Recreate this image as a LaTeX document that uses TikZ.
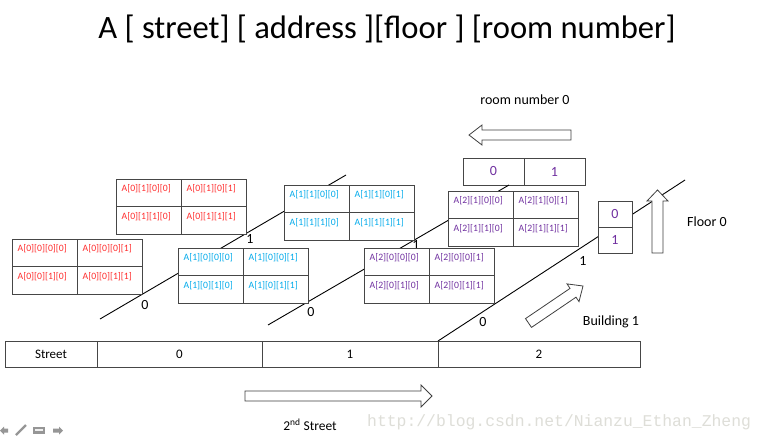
\documentclass[tikz,border=0pt]{standalone}
\usepackage{fontspec}
\setmainfont{Carlito}
\newfontfamily\wmfont{Liberation Mono}
\definecolor{cred}{RGB}{255,45,45}
\definecolor{ccyan}{RGB}{0,170,235}
\definecolor{cpurple}{RGB}{112,48,160}
\definecolor{cborder}{RGB}{70,70,70}
\definecolor{cicon}{RGB}{150,150,150}
\definecolor{cwater}{RGB}{222,222,216}
\tikzset{
  cell/.style={draw=cborder, fill=white, line width=0.9pt, minimum width=65pt, minimum height=27.5pt, inner sep=0pt, outer sep=0pt, anchor=north west},
  celltext/.style={font=\fontsize{9.7}{10}\selectfont, inner sep=0pt, anchor=north west},
  axis/.style={line width=0.9pt, black},
  axlabel/.style={font=\fontsize{14}{16}\selectfont, inner sep=0pt},
  caption/.style={font=\fontsize{14}{16}\selectfont, inner sep=0pt},
  barcell/.style={draw=cborder, fill=white, line width=0.9pt, minimum height=26pt, inner sep=0pt, outer sep=0pt, anchor=north west, font=\fontsize{13}{15}\selectfont},
  digitbox/.style={draw=cborder, fill=white, line width=0.9pt, inner sep=0pt, outer sep=0pt, anchor=north west, text=cpurple, font=\fontsize{14}{16}\selectfont},
  fatarrow/.style={draw=black!75, fill=white, line width=0.8pt, line join=miter},
  icon/.style={fill=cicon, draw=none},
}
\newcommand\blocktab[6]{%
  \node[cell] (#1-00) at (#2,#3) {};
  \node[cell] (#1-01) at (#1-00.north east) {};
  \node[cell] (#1-10) at (#1-00.south west) {};
  \node[cell] (#1-11) at (#1-00.south east) {};
  \node[celltext,text=#6] (#1-t00) at ([xshift=5.5pt,yshift=-5.5pt]#1-00.north west) {A[#4][#5][0][0]};
  \node[celltext,text=#6] (#1-t01) at ([xshift=5.5pt,yshift=-5.5pt]#1-01.north west) {A[#4][#5][0][1]};
  \node[celltext,text=#6] (#1-t10) at ([xshift=5.5pt,yshift=-5.5pt]#1-10.north west) {A[#4][#5][1][0]};
  \node[celltext,text=#6] (#1-t11) at ([xshift=5.5pt,yshift=-5.5pt]#1-11.north west) {A[#4][#5][1][1]};
}
\begin{document}
\begin{tikzpicture}[x=1pt,y=-1pt]
\useasboundingbox[fill=white] (0,0) rectangle (768,439);

% title
\node[anchor=base, inner sep=0pt, font=\fontsize{32.6}{36}\selectfont] (title) at (387,38) {A [ street] [ address ][floor ] [room number]};

% street bar
\node[barcell, minimum width=92pt] (b0) at (5,341) {Street};
\node[barcell, minimum width=165pt] (b1) at (b0.north east) {0};
\node[barcell, minimum width=176pt] (b2) at (b1.north east) {1};
\node[barcell, minimum width=202pt] (b3) at (b2.north east) {2};

% room and floor boxes
\node[digitbox, minimum width=61pt, minimum height=27pt] (r0) at (463,158) {0};
\node[digitbox, minimum width=61pt, minimum height=27pt] (r1) at (r0.north east) {1};

% axis lines
\coordinate (l1s) at (100,319);
\coordinate (l1e) at (346,175);
\coordinate (l2s) at (268,325);
\coordinate (l2e) at (509,185);
\coordinate (l3e) at (685,180);
\draw[axis] (l1s) -- (l1e);
\draw[axis] (l2s) -- (l2e);
\draw[axis] (b3.north west) -- (l3e);

% axis labels
\node[axlabel] (n10) at (145,305) {0};
\node[axlabel] (n11) at (250,239) {1};
\node[axlabel] (n20) at (311,312) {0};
\node[axlabel] (n21) at (416,245) {1};
\node[axlabel] (n30) at (483,322) {0};
\node[axlabel] (n31) at (583,261) {1};

% tables
\blocktab{a01}{116}{179}{0}{1}{cred}
\blocktab{a00}{12}{239}{0}{0}{cred}
\blocktab{a11}{284}{185}{1}{1}{ccyan}
\blocktab{a10}{178}{248}{1}{0}{ccyan}
\blocktab{a21}{448}{191}{2}{1}{cpurple}
\blocktab{a20}{364}{248}{2}{0}{cpurple}

% floor box over line 3
\node[digitbox, minimum width=34pt, minimum height=26pt] (f0) at (598,201) {0};
\node[digitbox, minimum width=34pt, minimum height=26pt] (f1) at (f0.south west) {1};

% fat arrows
\draw[fatarrow] (571,130) -- (482,130) -- (482,125) -- (469,135) -- (482,145) -- (482,140) -- (571,140) -- cycle;
\draw[fatarrow] (652,253) -- (652,201) -- (647,201) -- (657.5,190) -- (668,201) -- (663,201) -- (663,253) -- cycle;
\draw[fatarrow] (525.5,318.6) -- (570.0,288.4) -- (567.0,283.9) -- (583,286) -- (579.0,301.6) -- (576.0,297.2) -- (531.5,327.4) -- cycle;
\draw[fatarrow] (245,391) -- (421,391) -- (421,385) -- (432,396) -- (421,407) -- (421,401) -- (245,401) -- cycle;

% captions
\node[caption] (croom) at (525,100) {room number 0};
\node[caption] (cfloor) at (707,222) {Floor 0};
\node[caption] (cbuild) at (611,322) {Building 1};
\node[caption, font=\fontsize{13.5}{15}\selectfont] (cstreet) at (310,425) {2\textsuperscript{nd} Street};

% watermark
\node[anchor=base west, inner sep=0pt, text=cwater, font=\wmfont\fontsize{16.4}{18}\selectfont] (wm) at (367,426) {http://blog.csdn.net/Nianzu\_Ethan\_Zheng};

% slideshow icons
\fill[icon] (0,430.5) -- (4,426.5) -- (4,428.5) -- (8,428.5) -- (8,432.5) -- (4,432.5) -- (4,434.5) -- cycle;
\draw[cicon, line width=2.4pt] (16,435) -- (26,425);
\fill[icon] (33,427) rectangle (45,434);
\fill[white!85!cicon] (35,429) rectangle (43,430.5);
\fill[icon] (63,430.5) -- (59,426.5) -- (59,428.5) -- (53,428.5) -- (53,432.5) -- (59,432.5) -- (59,434.5) -- cycle;
\end{tikzpicture}
\end{document}
